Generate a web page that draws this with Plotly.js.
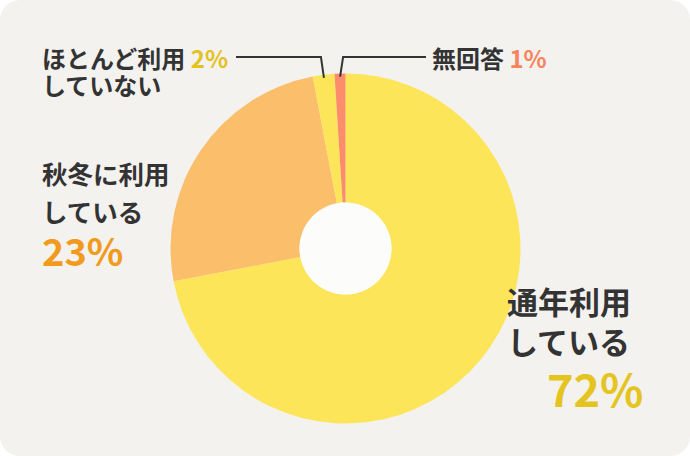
<!DOCTYPE html>
<html>
<head>
<meta charset="utf-8">
<script src="https://cdn.plot.ly/plotly-3.0.1.min.js"></script>
<style>
  html, body { margin: 0; padding: 0; background: #ffffff; }
  #chart {
    width: 690px; height: 456px;
    background: #F3F2EF;
    border-radius: 20px;
    overflow: hidden;
  }
</style>
</head>
<body>
<div id="chart"></div>
<script>
// slice sizes as drawn in the picture, printed labels as written on it
const categories = ['通年利用している', '秋冬に利用している', 'ほとんど利用していない', '無回答'];
const shares = [72, 25, 2, 1];
const printed = ['72%', '23%', '2%', '1%'];

const sliceColors = ['#FDE55A', '#FBBE6B', '#FDE55A', '#FD8C6B'];
const labelColors = ['#E5C421', '#F29A1E', '#E3C21F', '#F7845C'];

const W = 690, H = 456;
const cx = 345.5, cy = 248.5, R = 175, holeR = 46;
const px = x => x / W;
const py = y => 1 - y / H;
const ink = '#333333';
const font = 'Noto Sans CJK JP, Noto Sans, sans-serif';

// pixel point on the rim at the middle of slice i
function rimPoint(i, r) {
  let total = shares.reduce((a, b) => a + b, 0);
  let before = shares.slice(0, i).reduce((a, b) => a + b, 0);
  let theta = (before + shares[i] / 2) / total * 2 * Math.PI;
  return [cx + r * Math.sin(theta), cy - r * Math.cos(theta)];
}

let trace = {
  type: 'pie',
  labels: categories,
  values: shares,
  sort: false,
  direction: 'clockwise',
  rotation: 0,
  hole: holeR / R,
  textinfo: 'none',
  hoverinfo: 'skip',
  marker: { colors: sliceColors, line: { width: 0 } },
  domain: {
    x: [px(cx - R), px(cx + R)],
    y: [py(cy + R), py(cy - R)]
  },
  showlegend: false
};

// leader lines for the two small slices
let p2 = rimPoint(2, 172);
let p1 = rimPoint(3, 172);
let lineY = 57;
let shapes = [
  {
    type: 'circle', xref: 'paper', yref: 'paper',
    x0: px(cx - holeR), x1: px(cx + holeR),
    y0: py(cy + holeR), y1: py(cy - holeR),
    fillcolor: '#FCFCFA', line: { width: 0 }, layer: 'above'
  },
  {
    type: 'path', xref: 'paper', yref: 'paper',
    path: 'M ' + px(p2[0]) + ' ' + py(p2[1]) + ' L ' + px(p2[0] - 3) + ' ' + py(lineY) +
          ' L ' + px(236) + ' ' + py(lineY),
    line: { color: ink, width: 2 }
  },
  {
    type: 'path', xref: 'paper', yref: 'paper',
    path: 'M ' + px(p1[0]) + ' ' + py(p1[1]) + ' L ' + px(p1[0] + 3) + ' ' + py(lineY) +
          ' L ' + px(426) + ' ' + py(lineY),
    line: { color: ink, width: 2 }
  }
];

function note(text, x, y, size, color) {
  return {
    text: text, xref: 'paper', yref: 'paper',
    x: px(x), y: py(y), xanchor: 'left', yanchor: 'middle',
    showarrow: false,
    font: { family: font, size: size, color: color || ink, weight: 700 }
  };
}

function tinted(s, c) {
  return '<span style="color:' + c + '">' + s + '</span>';
}

let annotations = [
  note('ほとんど利用 ' + tinted(printed[2], labelColors[2]), 40, 57, 24),
  note('していない', 40, 84, 24),
  note('無回答 ' + tinted(printed[3], labelColors[3]), 430, 57, 24),
  note('秋冬に利用', 40, 172, 25.5),
  note('している', 40, 210, 25.5),
  note(printed[1], 40, 249, 38, labelColors[1]),
  note('通年利用', 505, 300, 31),
  note('している', 505, 340, 31),
  note(printed[0], 545, 387, 45, labelColors[0])
];

let layout = {
  width: W, height: H,
  margin: { l: 0, r: 0, t: 0, b: 0 },
  paper_bgcolor: 'rgba(0,0,0,0)',
  plot_bgcolor: 'rgba(0,0,0,0)',
  shapes: shapes,
  annotations: annotations
};

Plotly.newPlot('chart', [trace], layout, { displayModeBar: false, staticPlot: true });
</script>
</body>
</html>
